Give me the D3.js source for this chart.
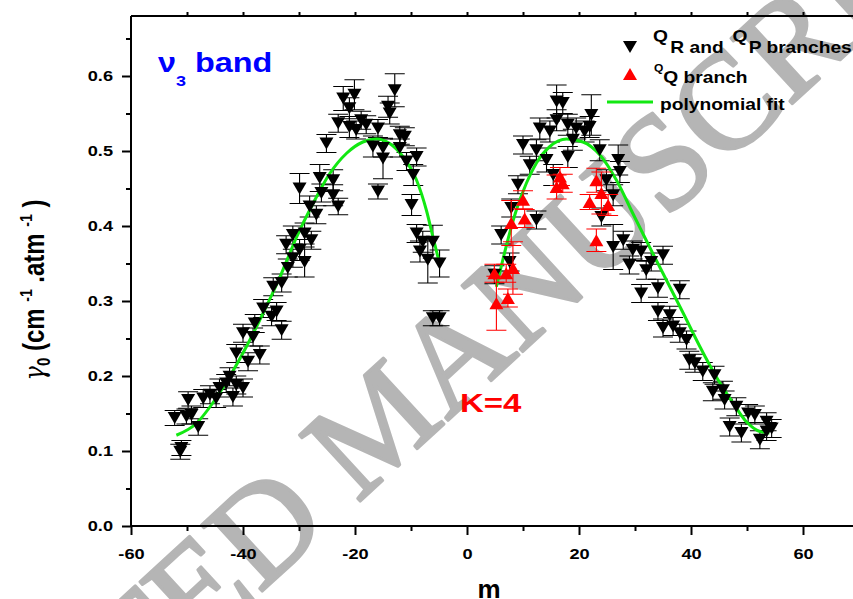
<!DOCTYPE html>
<html>
<head>
<meta charset="utf-8">
<script src="https://cdn.jsdelivr.net/npm/d3@7"></script>
<style>
  body { margin: 0; background: #fff; }
  svg { display: block; }
  text { font-family: "Liberation Sans", Arial, sans-serif; font-weight: bold; }
</style>
</head>
<body>
<script>
// ---- QR and QP branches (black, down triangles) ----
const branchM = [
  -51.0, -51.2, -52.2, -50.1, -49.2, -49.8, -48.0, -47.1, -45.9, -44.8,
  -44.2, -43.0, -41.8, -41.2, -40.0, -42.4, -41.2, -39.1, -37.0, -40.0,
  -38.2, -37.9, -36.4, -34.9, -33.1, -34.0, -34.6, -33.1, -32.0, -31.1,
  -32.3, -29.9, -29.0, -31.1, -29.0, -27.8, -29.9, -28.1, -26.9, -26.3,
  -26.0, -23.9, -23.9, -23.0, -25.1, -23.0, -22.1, -20.1, -21.0, -21.0,
  -19.8, -18.9, -18.0, -15.9, -16.8, -15.0, -15.0, -15.9, -12.9, -14.1,
  -13.8, -12.0, -11.1, -12.0, -10.8, -9.0, -9.6, -9.9, -9.0, -7.9,
  -6.1, -8.4, -7.0, -4.9, -6.1, -4.9,
  16.0, 17.1, 13.0, 14.8, 16.0, 18.0, 19.5, 22.2, 21.9, 21.0,
  18.9, 10.0, 12.4, 14.2, 11.2, 18.0, 23.7, 27.0, 27.3, 15.4,
  24.9, 9.1, 26.1, 7.9, 24.0, 12.4, 6.1, 26.1, 27.9, 29.6,
  31.1, 35.0, 29.0, 32.0, 32.9, 7.6, 4.9, 31.1, 34.1, 38.0,
  34.1, 36.2, 35.0, 36.8, 38.0, 39.2, 39.7, 40.7, 42.1, 44.2,
  43.9, 45.7, 46.0, 48.1, 50.2, 51.4, 46.9, 49.0, 52.3, 53.5,
  54.4, 53.5
];
const branchGamma = [
  0.104, 0.099, 0.144, 0.146, 0.148, 0.168, 0.132, 0.170, 0.175, 0.170,
  0.184, 0.190, 0.172, 0.188, 0.184, 0.199, 0.230, 0.219, 0.228, 0.257,
  0.252, 0.270, 0.290, 0.279, 0.261, 0.286, 0.319, 0.324, 0.344, 0.357,
  0.375, 0.368, 0.352, 0.388, 0.390, 0.381, 0.450, 0.426, 0.415, 0.464,
  0.444, 0.461, 0.441, 0.426, 0.510, 0.537, 0.570, 0.575, 0.557, 0.532,
  0.528, 0.541, 0.535, 0.530, 0.506, 0.504, 0.490, 0.446, 0.581, 0.559,
  0.550, 0.521, 0.519, 0.504, 0.486, 0.492, 0.468, 0.428, 0.390, 0.379,
  0.379, 0.366, 0.355, 0.350, 0.277, 0.277,
  0.566, 0.564, 0.530, 0.526, 0.541, 0.535, 0.530, 0.548, 0.532, 0.526,
  0.515, 0.508, 0.501, 0.488, 0.481, 0.492, 0.501, 0.488, 0.472, 0.468,
  0.461, 0.455, 0.441, 0.424, 0.412, 0.408, 0.388, 0.372, 0.381, 0.368,
  0.366, 0.361, 0.348, 0.341, 0.352, 0.352, 0.335, 0.310, 0.317, 0.315,
  0.286, 0.281, 0.264, 0.266, 0.257, 0.248, 0.221, 0.217, 0.206, 0.201,
  0.179, 0.181, 0.168, 0.159, 0.150, 0.148, 0.132, 0.124, 0.115, 0.139,
  0.130, 0.126
];
const branchErr = [
  0.010, 0.010, 0.010, 0.010, 0.012, 0.011, 0.011, 0.012, 0.012, 0.012,
  0.012, 0.012, 0.012, 0.012, 0.012, 0.012, 0.012, 0.012, 0.012, 0.012,
  0.012, 0.012, 0.012, 0.012, 0.012, 0.012, 0.012, 0.012, 0.012, 0.012,
  0.012, 0.014, 0.020, 0.012, 0.014, 0.012, 0.020, 0.014, 0.012, 0.018,
  0.012, 0.014, 0.014, 0.011, 0.012, 0.012, 0.016, 0.020, 0.014, 0.014,
  0.012, 0.012, 0.012, 0.012, 0.014, 0.012, 0.027, 0.010, 0.022, 0.014,
  0.014, 0.012, 0.012, 0.012, 0.012, 0.012, 0.014, 0.014, 0.012, 0.014,
  0.022, 0.014, 0.031, 0.018, 0.010, 0.010,
  0.022, 0.014, 0.014, 0.014, 0.014, 0.014, 0.014, 0.027, 0.014, 0.014,
  0.014, 0.012, 0.014, 0.016, 0.012, 0.014, 0.014, 0.020, 0.014, 0.014,
  0.014, 0.012, 0.014, 0.012, 0.012, 0.012, 0.012, 0.030, 0.012, 0.012,
  0.012, 0.012, 0.012, 0.012, 0.012, 0.012, 0.012, 0.012, 0.012, 0.012,
  0.012, 0.012, 0.012, 0.012, 0.012, 0.012, 0.012, 0.012, 0.012, 0.012,
  0.012, 0.012, 0.012, 0.012, 0.012, 0.012, 0.012, 0.012, 0.012, 0.012,
  0.012, 0.012
];

// ---- QQ branch (red, up triangles) ----
const qM     = [5.25, 7.3, 4.9, 7.0, 8.2, 7.9, 10.3, 10.0, 16.6, 17.1, 16.0, 23.1, 24.0, 21.9, 25.2, 23.1];
const qGamma = [0.297, 0.304, 0.337, 0.337, 0.344, 0.404, 0.410, 0.435, 0.466, 0.457, 0.452, 0.461, 0.444, 0.432, 0.428, 0.381];
const qErr   = [0.036, 0.012, 0.012, 0.012, 0.035, 0.030, 0.012, 0.012, 0.012, 0.012, 0.016, 0.016, 0.028, 0.010, 0.014, 0.015];

// ---- polynomial fits (negative-m and positive-m sides) ----
const fitLowM      = [-51.9, -48.3, -45.4, -42.4, -39.4, -36.4, -33.4, -30.5, -27.5, -24.5, -21.5, -18.6, -16.2, -13.8, -11.4, -9.0, -7.25, -6.1, -4.9];
const fitLowGamma  = [0.121, 0.137, 0.164, 0.199, 0.239, 0.284, 0.332, 0.384, 0.430, 0.470, 0.497, 0.512, 0.516, 0.510, 0.492, 0.461, 0.421, 0.386, 0.350];
const fitHighM     = [5.25, 6.4, 7.6, 8.8, 10.6, 12.4, 14.8, 17.8, 20.7, 23.7, 26.7, 29.6, 32.6, 35.6, 38.6, 41.6, 44.5, 47.5, 49.9, 52.3, 54.0];
const fitHighGamma = [0.319, 0.355, 0.390, 0.421, 0.457, 0.484, 0.506, 0.516, 0.512, 0.495, 0.461, 0.417, 0.372, 0.328, 0.284, 0.239, 0.199, 0.164, 0.139, 0.126, 0.124];

// ---- axis ticks ----
const xMajor = [-60, -40, -20, 0, 20, 40, 60];
const xMinor = [-50, -30, -10, 10, 30, 50];
const yMajor = [0.0, 0.1, 0.2, 0.3, 0.4, 0.5, 0.6];
const yMinor = [0.05, 0.15, 0.25, 0.35, 0.45, 0.55, 0.65];

const W = 853, H = 599;
const svg = d3.select("body").append("svg").attr("width", W).attr("height", H);

const x = d3.scaleLinear().domain([-60, 70]).range([131, 859]);
const y = d3.scaleLinear().domain([0, 0.68]).range([526, 16]);

// Diagonal watermark behind the plot
svg.append("text")
  .attr("transform", "translate(-189,1006) rotate(-42.6)")
  .style("font-family", "'Liberation Serif', 'Times New Roman', serif")
  .style("font-weight", "normal")
  .style("font-size", "137px")
  .attr("fill", "#b5b5b5")
  .attr("stroke", "#b5b5b5")
  .attr("stroke-width", 3)
  .attr("stroke-linejoin", "round")
  .text("ACCEPTED MANUSCRIPT");

// ---- axes ----
function styleAxis(g) {
  g.selectAll("path, line").attr("stroke", "#000").attr("stroke-width", 2);
}

const gx = svg.append("g").attr("transform", `translate(0,${y(0)})`)
  .call(d3.axisBottom(x).tickValues(xMajor).tickSize(9).tickSizeOuter(0).tickFormat(d => String(d)))
  .call(styleAxis);
gx.selectAll("text")
  .attr("y", 23).attr("dy", "0.71em")
  .attr("transform", "scale(1.3,1)")
  .style("font-size", "14px").attr("fill", "#000");
gx.select(".domain").attr("d", `M${x(-60)},0H${W + 10}`);

svg.append("g").attr("transform", `translate(0,${y(0)})`)
  .call(d3.axisBottom(x).tickValues(xMinor).tickSize(5).tickFormat(""))
  .call(g => g.select(".domain").remove())
  .call(styleAxis);

const gy = svg.append("g").attr("transform", `translate(${x(-60)},0)`)
  .call(d3.axisLeft(y).tickValues(yMajor).tickSize(9).tickSizeOuter(0).tickFormat(d3.format(".1f")))
  .call(styleAxis);
gy.selectAll("text")
  .attr("x", -18 / 1.3)
  .attr("transform", "scale(1.3,1)")
  .style("font-size", "14px").attr("fill", "#000");
gy.select(".domain").attr("d", `M0,${y(0)}V${y(0.68)}`);

svg.append("g").attr("transform", `translate(${x(-60)},0)`)
  .call(d3.axisLeft(y).tickValues(yMinor).tickSize(5).tickFormat(""))
  .call(g => g.select(".domain").remove())
  .call(styleAxis);

// top frame with mirrored ticks
const gt = svg.append("g").attr("transform", `translate(0,${y(0.68)})`)
  .call(d3.axisTop(x).tickValues(d3.range(-50, 71, 10)).tickSize(4).tickSizeOuter(0).tickFormat(""))
  .call(styleAxis);
gt.select(".domain").attr("d", `M${x(-60)},0H${W + 10}`);

// ---- axis titles ----
svg.append("text")
  .attr("x", 489).attr("y", 598)
  .attr("text-anchor", "middle")
  .style("font-size", "26px")
  .text("m");

const yt = svg.append("text")
  .attr("transform", "translate(44,290) scale(1.2,1) rotate(-90)")
  .attr("text-anchor", "middle")
  .style("font-size", "24px");
yt.append("tspan").style("font-style", "italic").style("font-family", "'DejaVu Serif', serif").style("font-weight", "normal").text("γ");
yt.append("tspan").attr("dy", 5).style("font-size", "15px").text("0");
yt.append("tspan").attr("dy", -5).text(" (cm ");
yt.append("tspan").attr("dy", -10).style("font-size", "14px").text("-1");
yt.append("tspan").attr("dy", 10).text(" .atm ");
yt.append("tspan").attr("dy", -10).style("font-size", "14px").text("-1");
yt.append("tspan").attr("dy", 10).text(" )");

// ---- annotations ----
const band = svg.append("text")
  .attr("transform", "translate(158,72) scale(1.2,1)")
  .attr("fill", "#0000ff")
  .style("font-size", "27px");
band.append("tspan").text("ν");
band.append("tspan").attr("dy", 14).style("font-size", "15px").text("3");
band.append("tspan").attr("dy", -14).text(" band");

svg.append("text")
  .attr("transform", "translate(460,412) scale(1.32,1)")
  .attr("fill", "#ff0000")
  .style("font-size", "25px")
  .text("K=4");

// ---- markers ----
function triDown(cx, cy) { return `M${cx - 7},${cy - 6}L${cx + 7},${cy - 6}L${cx},${cy + 6}Z`; }
function triUp(cx, cy) { return `M${cx - 7},${cy + 6}L${cx + 7},${cy + 6}L${cx},${cy - 6}Z`; }

function errorBars(ms, gs, es, color) {
  const g = svg.append("g").attr("stroke", color).attr("stroke-width", 1.1).attr("fill", "none");
  ms.forEach((m, i) => {
    const cx = x(m), y1 = y(gs[i] + es[i]), y2 = y(gs[i] - es[i]);
    g.append("path").attr("d", `M${cx},${y1}V${y2}M${cx - 10},${y1}H${cx + 10}M${cx - 10},${y2}H${cx + 10}`);
  });
}

errorBars(branchM, branchGamma, branchErr, "#000");

// fit curves
const fitLine = d3.line().x(d => x(d[0])).y(d => y(d[1])).curve(d3.curveMonotoneX);
[[fitLowM, fitLowGamma], [fitHighM, fitHighGamma]].forEach(([ms, gs]) => {
  svg.append("path")
    .attr("d", fitLine(ms.map((m, i) => [m, gs[i]])))
    .attr("fill", "none").attr("stroke", "#12e812").attr("stroke-width", 3);
});

svg.append("g").selectAll("path").data(branchM).join("path")
  .attr("d", (m, i) => triDown(x(m), y(branchGamma[i])))
  .attr("fill", "#000");

errorBars(qM, qGamma, qErr, "#ff0000");
svg.append("g").selectAll("path").data(qM).join("path")
  .attr("d", (m, i) => triUp(x(m), y(qGamma[i])))
  .attr("fill", "#ff0000");

// ---- legend ----
svg.append("path").attr("d", triDown(630, 47)).attr("fill", "#000");
const l1 = svg.append("text").attr("transform", "translate(653,53) scale(1.2,1)").style("font-size", "16px");
l1.append("tspan").attr("dy", -11).text("Q");
l1.append("tspan").attr("dy", 11).attr("dx", 2).text("R and ");
l1.append("tspan").attr("dy", -11).attr("dx", 3).text("Q");
l1.append("tspan").attr("dy", 11).attr("dx", 1).text("P branches");

svg.append("path").attr("d", triUp(630, 74)).attr("fill", "#ff0000");
const l2 = svg.append("text").attr("transform", "translate(654,83) scale(1.2,1)").style("font-size", "16px");
l2.append("tspan").attr("dy", -11).style("font-size", "10px").text("Q");
l2.append("tspan").attr("dy", 11).text("Q branch");

svg.append("line").attr("x1", 607).attr("x2", 653).attr("y1", 102).attr("y2", 102)
  .attr("stroke", "#12e812").attr("stroke-width", 3);
svg.append("text").attr("transform", "translate(660,110) scale(1.2,1)").style("font-size", "16px")
  .text("polynomial fit");
</script>
</body>
</html>
